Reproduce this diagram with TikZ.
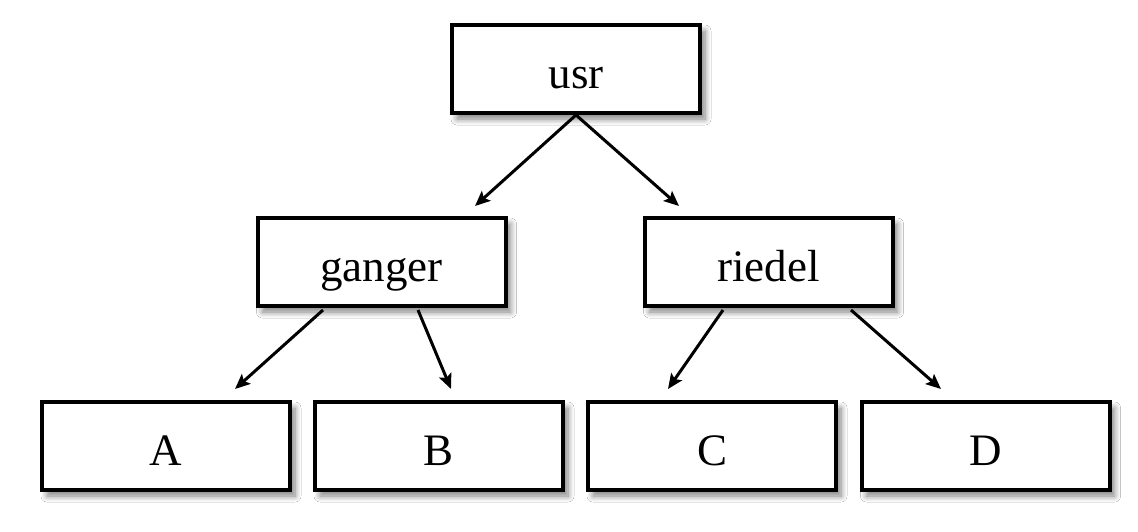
\documentclass[tikz,border=0pt]{standalone}
\usepackage{fontspec}
\setmainfont{Liberation Serif}
\usetikzlibrary{arrows.meta,shadows.blur}
\begin{document}
\begin{tikzpicture}[x=1pt,y=-1pt,
  box/.style={draw=black, line width=4pt, fill=white, minimum width=248pt, minimum height=88pt,
    inner sep=0pt, text height=39pt, text depth=0pt, font=\fontsize{45}{50}\selectfont,
    blur shadow={shadow xshift=5pt, shadow yshift=-6pt, shadow blur radius=6pt, shadow blur steps=8, shadow opacity=50}},
  conn/.style={line width=3pt, -{Stealth[length=15pt,width=13pt,inset=3pt]}}]
\useasboundingbox (0,0) rectangle (1138,531);
\fill[white] (0,0) rectangle (1138,531);
\node[box] (usr) at (576,69) {usr};
\node[box] (ganger) at (381.5,262) {ganger};
\node[box] (riedel) at (768.5,262) {riedel};
\node[box] (A) at (166,446) {A};
\node[box] (B) at (439,446) {B};
\node[box] (C) at (712,446) {C};
\node[box] (D) at (985.5,446) {D};
\coordinate (u0) at (576,115);
\coordinate (g0) at (323,310);
\coordinate (g1) at (418,310);
\coordinate (r0) at (723,310);
\coordinate (r1) at (851,310);
\coordinate (tg) at (475,206);
\coordinate (tr) at (679,206);
\coordinate (ta) at (235,389);
\coordinate (tb) at (451,389);
\coordinate (tc) at (668,389);
\coordinate (td) at (941,389);
\draw[conn] (u0) -- (tg);
\draw[conn] (u0) -- (tr);
\draw[conn] (g0) -- (ta);
\draw[conn] (g1) -- (tb);
\draw[conn] (r0) -- (tc);
\draw[conn] (r1) -- (td);
\end{tikzpicture}
\end{document}
